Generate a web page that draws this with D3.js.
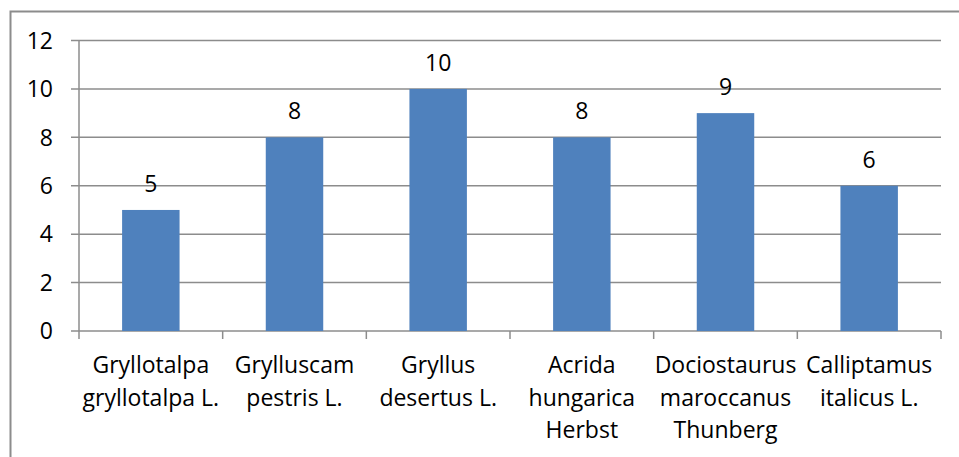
<html><head>
<meta charset="utf-8">
<script src="https://d3js.org/d3.v7.min.js"></script>
<style>
  body { margin: 0; background: #fff; }
  svg text { font-family: "Open Sans", sans-serif; fill: #000; }
</style>
</head>
<body>
<div id="chart"></div>
<script>

// chart data
var categories = ["Gryllotalpa\ngryllotalpa L.", "Grylluscam\npestris L.", "Gryllus\ndesertus L.",
                  "Acrida\nhungarica\nHerbst", "Dociostaurus\nmaroccanus\nThunberg", "Calliptamus\nitalicus L."];
var values = [5, 8, 10, 8, 9, 6];
var yTicks = [0, 2, 4, 6, 8, 10, 12];

var W = 959, H = 457;
var margin = {top: 40.5, right: 18, bottom: 126, left: 79};
var width = W - margin.left - margin.right;
var height = H - margin.top - margin.bottom;
var fs = "23px";

var svg = d3.select("#chart")
  .append("svg")
    .attr("width", W)
    .attr("height", H);

// outer frame (right/bottom run off the picture)
svg.append("rect")
  .attr("x", 10.5).attr("y", 11.5)
  .attr("width", 970).attr("height", 470)
  .attr("fill", "none")
  .attr("stroke", "#8c8c8c")
  .attr("stroke-width", 2);

var g = svg.append("g")
  .attr("transform", "translate(" + margin.left + "," + margin.top + ")");

var x = d3.scaleBand()
  .domain(categories)
  .range([0, width])
  .paddingInner(0.6)
  .paddingOuter(0.3);

var xTick = d3.scaleBand().domain(categories).range([0, width]);

var y = d3.scaleLinear()
  .domain([0, 12])
  .range([height, 0]);

// gridlines
g.append("g")
  .selectAll("line")
  .data(yTicks)
  .enter().append("line")
    .attr("x1", -8).attr("x2", width)
    .attr("y1", function(d) { return y(d); })
    .attr("y2", function(d) { return y(d); })
    .attr("stroke", "#8c8c8c")
    .attr("stroke-width", 1.5);

// y labels
g.append("g")
  .selectAll("text")
  .data(yTicks)
  .enter().append("text")
    .attr("x", -26)
    .attr("y", function(d) { return y(d); })
    .attr("dy", "0.36em")
    .attr("text-anchor", "end")
    .style("font-size", fs)
    .text(function(d) { return d; });

// bars
g.selectAll(".bar")
  .data(values)
  .enter().append("rect")
    .attr("class", "bar")
    .attr("x", function(d, i) { return x(categories[i]); })
    .attr("width", x.bandwidth())
    .attr("y", function(d) { return y(d); })
    .attr("height", function(d) { return height - y(d); })
    .attr("fill", "#4f81bd");

// value labels
g.selectAll(".val")
  .data(values)
  .enter().append("text")
    .attr("class", "val")
    .attr("x", function(d, i) { return x(categories[i]) + x.bandwidth() / 2; })
    .attr("y", function(d) { return y(d) - 18; })
    .attr("text-anchor", "middle")
    .style("font-size", fs)
    .text(function(d) { return d; });

// axes lines
g.append("line")
  .attr("x1", 0).attr("x2", 0)
  .attr("y1", 0).attr("y2", height)
  .attr("stroke", "#8c8c8c").attr("stroke-width", 1.5);

var tickPos = categories.map(function(c) { return xTick(c); }).concat([width]);
g.append("g")
  .selectAll("line")
  .data(tickPos)
  .enter().append("line")
    .attr("x1", function(d) { return d; })
    .attr("x2", function(d) { return d; })
    .attr("y1", height).attr("y2", height + 8)
    .attr("stroke", "#8c8c8c").attr("stroke-width", 1.5);

// category labels
var cat = g.selectAll(".cat")
  .data(categories)
  .enter().append("text")
    .attr("class", "cat")
    .attr("text-anchor", "middle")
    .style("font-size", fs)
    .attr("transform", function(d) {
      return "translate(" + (xTick(d) + xTick.bandwidth() / 2) + "," + (height + 42) + ")";
    });

cat.selectAll("tspan")
  .data(function(d) { return d.split("\n"); })
  .enter().append("tspan")
    .attr("x", 0)
    .attr("y", function(d, i) { return i * 32.5; })
    .text(function(d) { return d; });

</script>
</body></html>
